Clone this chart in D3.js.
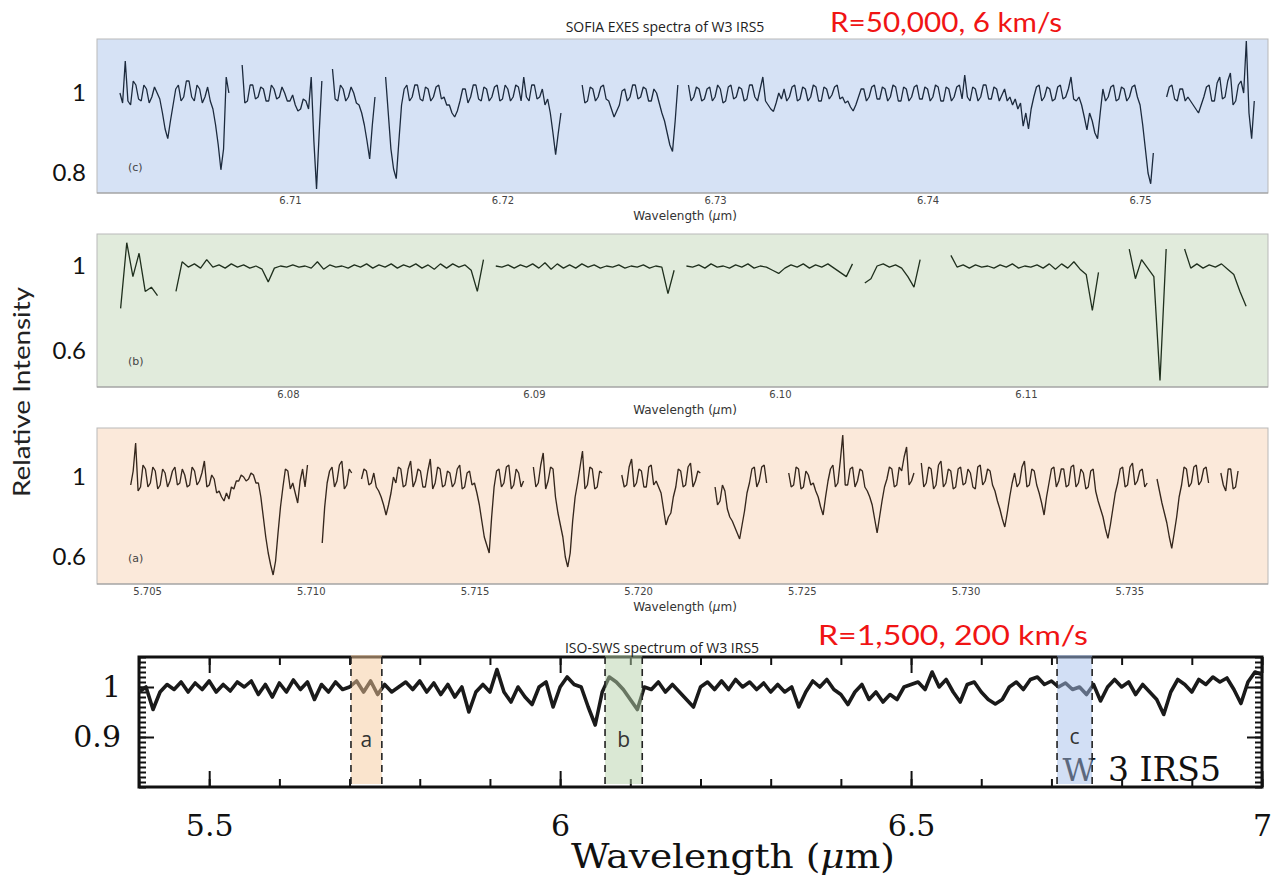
<!DOCTYPE html>
<html>
<head>
<meta charset="utf-8">
<script src="https://cdn.jsdelivr.net/npm/d3@7"></script>
<style>
  body { margin: 0; background: #fff; }
  svg { display: block; }
</style>
</head>
<body>
<svg id="fig" width="1272" height="881"></svg>
<script>
// ---------- EXES high-resolution spectra (relative intensity on a uniform wavelength grid, null = no data) ----------
const cStart = 6.7020, cStep = 0.000125;
const cFlux = [
  1.00,0.975,1.08,0.98,0.97,1.03,1.02,0.985,0.98,1.02,1.01,0.975,0.99,1.015,1.00,0.985,0.95,0.91,0.886,0.93,
  0.97,1.01,1.02,0.98,0.99,1.03,1.03,0.99,0.98,1.02,1.01,0.975,0.99,1.015,0.98,0.96,0.92,0.87,0.808,0.86,
  1.04,1.00,null,null,null,null,1.07,0.975,0.98,1.02,1.02,0.985,0.99,1.015,1.01,0.98,0.98,1.02,1.01,0.985,
  0.99,1.015,1.00,0.98,0.98,0.995,0.97,0.955,0.96,0.985,0.98,0.96,1.04,0.88,0.76,0.90,1.03,null,null,null,
  1.06,0.985,0.98,1.02,1.01,0.98,0.99,1.015,1.00,0.975,0.97,0.95,0.92,0.88,0.835,0.92,0.99,null,null,null,
  1.04,0.95,0.86,0.81,0.786,0.88,0.97,1.01,1.02,0.98,0.99,1.02,1.02,0.985,0.98,1.015,1.01,0.98,0.99,1.015,
  1.02,0.985,0.99,0.97,0.97,0.95,0.94,0.955,0.98,1.01,1.01,0.975,0.99,1.02,1.02,0.985,0.98,1.015,1.01,0.98,
  0.99,1.015,1.02,0.98,0.985,1.02,1.01,0.98,0.99,1.02,1.015,0.98,1.04,0.99,0.98,1.02,1.02,0.985,0.99,1.01,
  0.97,0.985,0.95,0.90,0.846,0.90,0.95,null,null,null,null,null,null,null,1.02,0.975,0.98,1.015,1.01,0.98,
  0.99,1.015,1.02,0.985,0.98,0.96,0.94,0.955,0.97,1.005,1.01,0.98,0.99,1.02,1.02,0.985,0.99,1.015,1.01,0.98,
  0.98,1.01,1.00,0.975,0.95,0.93,0.90,0.87,0.854,0.93,1.02,null,null,null,1.02,0.98,0.99,1.015,1.01,0.98,
  0.985,1.01,1.015,0.98,0.99,1.02,1.01,0.975,0.98,1.015,1.02,0.985,0.99,1.015,1.01,0.98,0.985,1.02,1.02,0.99,
  0.98,1.01,1.04,0.98,0.97,0.96,0.954,0.975,1.00,0.985,1.01,0.98,0.99,1.015,1.02,0.98,0.985,1.015,1.01,0.98,
  0.99,1.02,1.015,0.98,0.98,1.015,1.01,0.985,0.995,1.015,1.02,0.985,0.99,0.975,0.98,0.965,0.955,0.97,0.99,1.01,
  1.01,0.98,0.99,1.015,1.02,0.985,0.985,1.015,1.01,0.98,0.99,1.02,1.015,0.98,0.98,1.015,1.01,0.98,0.99,1.015,
  1.02,0.985,0.985,1.015,1.01,0.98,0.99,1.02,1.015,0.98,0.98,1.015,1.01,0.98,0.99,1.015,1.02,0.985,1.045,0.99,
  0.98,1.015,1.01,0.98,0.99,1.02,1.02,0.985,0.985,1.015,1.01,0.98,0.995,1.01,0.98,0.99,0.97,0.985,0.96,0.975,
  0.917,0.95,0.91,0.96,0.99,1.015,1.02,0.98,0.99,1.015,1.01,0.98,0.985,1.015,1.02,0.985,0.99,1.01,1.04,0.985,
  0.98,0.99,0.97,0.94,0.908,0.95,0.93,0.90,0.886,0.95,1.01,0.98,0.99,1.015,1.02,0.98,0.985,1.015,1.01,0.98,
  0.99,1.015,1.02,0.99,0.97,0.92,0.86,0.80,0.773,0.85,null,null,null,null,0.99,1.015,1.02,0.985,0.98,1.01,
  1.01,0.98,0.99,0.98,0.97,0.96,0.95,0.97,0.99,1.015,1.02,0.98,0.98,1.025,1.04,0.985,0.99,1.03,1.05,0.97,
  0.98,1.02,1.03,1.00,1.13,0.95,0.886,0.98
];

const bStart = 6.0732, bStep = 0.00025;
const bFlux = [
  0.80,1.11,0.95,1.06,0.88,0.90,0.86,null,null,0.88,1.02,0.995,1.01,0.99,1.03,0.995,1.005,0.99,1.01,0.995,
  1.005,0.99,1.00,0.985,0.925,0.99,1.00,0.995,1.005,0.995,1.00,0.99,1.02,0.985,1.005,0.995,1.00,0.99,1.005,0.995,
  1.01,0.99,1.005,0.995,1.01,0.99,1.005,0.995,1.01,0.99,1.005,0.985,1.01,0.99,1.01,0.995,1.005,0.98,0.88,1.03,
  null,1.00,0.995,1.005,0.99,1.005,0.995,1.01,0.99,1.015,0.985,1.01,0.99,1.005,0.99,1.01,0.995,1.005,0.99,1.00,
  0.995,1.005,0.99,1.00,0.995,1.005,0.99,1.00,0.995,0.87,0.98,null,1.00,0.995,1.005,0.99,1.01,0.995,1.00,0.99,
  1.005,0.995,1.01,0.99,1.00,0.995,0.98,0.965,0.99,1.005,0.995,1.01,0.99,1.005,0.995,1.01,0.99,0.97,0.95,1.01,
  null,0.92,0.94,1.00,1.01,0.995,1.005,0.99,0.95,0.90,1.03,null,null,null,null,1.05,0.995,1.005,0.99,1.005,
  0.995,1.00,0.99,1.005,0.995,1.01,0.99,1.00,0.995,1.005,0.99,1.01,0.985,1.01,0.99,1.02,0.985,0.96,0.79,0.97,
  null,null,null,null,1.08,0.94,1.03,0.99,0.95,0.46,1.08,null,null,1.08,0.99,1.01,0.99,1.005,0.995,1.01,
  0.985,0.96,0.88,0.81
];

const aStart = 5.7045, aStep = 0.000075;
const aFlux = [
  0.96,1.03,1.17,0.93,0.95,1.06,1.04,0.95,0.97,1.05,1.03,0.94,0.96,1.04,1.02,0.95,0.98,1.03,1.05,0.96,
  0.97,1.04,1.01,0.95,0.96,1.05,1.03,0.96,0.98,1.02,1.08,0.95,0.96,1.01,0.99,0.92,0.93,0.90,0.88,0.92,
  0.89,0.95,0.94,0.98,0.98,1.01,1.00,0.98,0.99,1.02,1.01,0.97,0.97,0.90,0.80,0.70,0.62,0.56,0.51,0.58,
  0.72,0.85,0.95,1.04,1.03,0.94,0.97,0.92,0.87,0.98,1.04,0.95,1.06,null,null,null,null,null,0.67,0.85,
  0.97,1.03,1.05,0.95,0.98,1.06,1.08,0.94,0.96,1.04,1.02,null,null,null,0.99,1.04,1.03,0.96,0.97,1.02,
  0.95,0.93,0.90,0.86,0.81,0.86,0.92,1.00,0.97,1.05,1.04,0.95,0.96,1.04,1.08,0.95,0.98,1.04,1.03,0.95,
  0.95,1.03,1.09,0.94,0.97,1.05,1.04,0.95,0.96,1.03,1.02,0.95,0.97,1.04,1.06,0.94,0.95,1.02,1.03,0.96,
  0.97,0.92,0.86,0.78,0.70,0.66,0.62,0.80,0.95,1.03,1.04,0.95,0.97,1.05,1.06,0.94,0.96,1.04,1.02,0.95,
  0.98,null,null,null,1.05,0.95,0.97,1.06,1.12,0.94,0.98,1.05,1.04,0.90,0.82,0.76,0.70,0.60,0.55,0.62,
  0.78,0.90,0.97,1.05,1.13,0.94,0.96,1.05,1.04,0.94,0.95,1.03,1.02,null,null,null,null,null,null,null,
  1.01,0.95,0.96,1.05,1.09,0.95,0.97,1.04,1.03,0.95,0.95,1.05,1.06,0.96,0.98,0.95,0.92,0.84,0.76,0.80,
  0.82,0.90,0.95,1.04,1.03,0.95,0.96,1.05,1.07,0.95,0.98,1.03,1.02,null,null,null,null,null,0.95,0.86,
  0.88,0.96,0.93,0.84,0.80,0.78,0.75,0.72,0.69,0.76,0.83,0.92,0.97,1.04,1.05,0.95,0.98,1.05,1.06,0.97,
  null,null,null,null,null,null,null,null,1.02,0.95,0.96,1.05,1.04,0.94,0.95,1.03,1.01,0.96,0.97,0.93,
  0.90,0.85,0.81,0.90,0.98,1.04,1.06,0.95,0.97,1.08,1.21,0.96,0.96,1.04,1.05,0.95,0.98,1.04,1.03,0.95,
  0.93,0.90,0.86,0.79,0.72,0.80,0.88,0.95,0.99,1.05,1.04,0.95,0.96,1.05,1.03,1.10,1.15,0.96,0.98,1.02,
  null,null,1.07,0.95,0.97,1.05,1.04,0.94,0.96,1.06,1.08,0.95,0.97,1.04,1.03,0.94,0.95,1.04,1.05,0.96,
  0.97,1.04,1.02,0.95,0.94,1.05,1.06,0.96,0.98,1.04,1.03,0.96,0.93,0.88,0.84,0.79,0.75,0.82,0.90,0.97,
  1.02,0.95,0.97,1.05,1.08,0.95,0.96,1.04,1.03,0.96,0.92,0.87,0.81,0.90,0.97,1.04,1.05,0.95,0.98,1.04,
  1.04,0.95,0.96,1.05,1.06,0.95,0.97,1.04,1.02,0.94,0.95,1.03,1.04,0.93,0.88,0.84,0.80,0.74,0.693,0.76,
  0.84,0.92,0.97,1.04,1.05,0.95,0.96,1.05,1.07,0.96,0.98,1.03,1.04,0.95,0.97,null,null,null,0.99,0.93,
  0.87,0.82,0.77,0.70,0.643,0.72,0.80,0.90,0.96,1.05,1.04,0.95,0.97,1.05,1.06,0.96,0.98,1.04,1.05,0.97,
  null,null,null,null,1.02,0.96,0.93,1.04,1.04,0.94,0.95,1.03
];

const cTicks = [6.71, 6.72, 6.73, 6.74, 6.75];
const bTicks = [6.08, 6.09, 6.10, 6.11];
const aTicks = [5.705, 5.710, 5.715, 5.720, 5.725, 5.730, 5.735];
const cLevels = [0.8, 1];
const bLevels = [0.6, 1];
const aLevels = [0.6, 1];

// ---------- ISO-SWS low-resolution spectrum ----------
const isoStart = 5.40, isoStep = 0.01;
const isoFlux = [
  0.99,1.00,0.955,0.99,1.005,0.995,1.01,0.99,1.008,0.995,1.012,0.99,1.005,0.992,1.01,1.00,1.012,0.985,1.005,0.98,
  1.008,0.99,1.014,0.995,1.01,0.975,1.005,0.99,1.01,0.995,1.00,1.012,0.99,1.012,0.985,1.005,0.99,1.00,1.01,0.995,
  1.012,0.99,1.008,0.985,1.005,0.98,1.00,0.95,0.99,1.005,0.99,1.035,0.99,0.97,1.00,0.98,0.965,1.00,1.01,0.96,
  1.00,1.02,1.005,1.00,0.96,0.924,0.99,1.02,1.01,0.995,0.975,0.955,1.00,0.995,1.01,0.99,1.005,0.99,0.975,0.96,
  1.00,1.01,0.995,1.012,0.995,1.015,1.00,1.01,0.995,1.008,0.99,1.005,0.99,1.00,0.96,0.99,1.012,1.00,1.015,0.995,
  0.985,0.965,0.99,1.005,0.975,0.99,0.97,0.985,0.975,1.00,1.005,1.01,0.995,1.03,1.00,1.015,0.99,0.97,1.005,1.01,
  0.99,0.975,0.966,0.975,1.00,1.01,0.995,1.015,1.02,1.005,1.012,1.00,1.008,0.995,1.00,0.985,1.005,0.972,1.00,1.015,
  1.00,1.01,0.985,1.005,0.99,0.975,0.945,0.99,1.015,1.005,0.99,1.015,1.005,1.02,1.01,1.018,0.995,0.967,1.01,1.03,
  1.025
];
const isoTicks = [5.5, 6, 6.5, 7];
const isoLevels = [0.9, 1];
const windowNames = ['a', 'b', 'c'];
const windowLo = [5.702, 6.064, 6.708];
const windowHi = [5.746, 6.117, 6.758];

// ---------- drawing ----------
const svg = d3.select('#fig');
svg.append('rect').attr('width', 1272).attr('height', 881).attr('fill', '#fff');

const SANS_TICK = 'DejaVu Sans, sans-serif';
const GEO = 'Lato, "Noto Sans", sans-serif';
const SERIF = '"DejaVu Serif", serif';

const panels = [
  { flux: cFlux, start: cStart, step: cStep, xTicks: cTicks, yTicks: cLevels, fmt: '.2f',
    xDom: [6.70092, 6.75602], yDom: [0.75, 1.135], box: [97, 39, 1268, 193],
    bg: '#d6e2f5', ink: '#1c2a3d', tag: '(c)', width: 1.3 },
  { flux: bFlux, start: bStart, step: bStep, xTicks: bTicks, yTicks: bLevels, fmt: '.2f',
    xDom: [6.07224, 6.11984], yDom: [0.429, 1.151], box: [97, 234, 1268, 387],
    bg: '#e1ebdc', ink: '#1f2f1d', tag: '(b)', width: 1.3 },
  { flux: aFlux, start: aStart, step: aStep, xTicks: aTicks, yTicks: aLevels, fmt: '.3f',
    xDom: [5.70347, 5.73924], yDom: [0.465, 1.245], box: [97, 428, 1268, 584],
    bg: '#fbe9da', ink: '#35271d', tag: '(a)', width: 1.35 }
];

function drawPanel(p) {
  const [x0, y0, x1, y1] = p.box;
  const x = d3.scaleLinear().domain(p.xDom).range([x0, x1]);
  const y = d3.scaleLinear().domain(p.yDom).range([y1, y0]);
  const g = svg.append('g');

  g.append('rect')
    .attr('x', x0).attr('y', y0).attr('width', x1 - x0).attr('height', y1 - y0)
    .attr('fill', p.bg).attr('stroke', '#b9b9b9').attr('stroke-width', 1);
  g.append('line').attr('x1', x0).attr('x2', x1).attr('y1', y1).attr('y2', y1)
    .attr('stroke', '#9a9a9a').attr('stroke-width', 1.2);

  const pts = p.flux.map((f, i) => ({ w: p.start + i * p.step, f: f }));
  const line = d3.line().defined(d => d.f !== null).x(d => x(d.w)).y(d => y(d.f));
  g.append('path').datum(pts).attr('d', line)
    .attr('fill', 'none').attr('stroke', p.ink).attr('stroke-width', p.width)
    .attr('stroke-linejoin', 'bevel');

  // wavelength axis
  const xa = g.append('g').attr('transform', `translate(0,${y1})`)
    .call(d3.axisBottom(x).tickValues(p.xTicks).tickFormat(d3.format(p.fmt)).tickSize(0).tickPadding(4));
  xa.select('.domain').remove();
  xa.selectAll('text').attr('font-family', SANS_TICK).attr('font-size', 10).attr('fill', '#444');

  g.append('text').attr('x', 685).attr('y', y1 + 27).attr('text-anchor', 'middle')
    .attr('font-family', SANS_TICK).attr('font-size', 12).attr('fill', '#333')
    .html('Wavelength (<tspan font-style="italic">μ</tspan>m)');

  // intensity levels
  const ya = g.append('g').attr('transform', `translate(86,0)`)
    .call(d3.axisLeft(y).tickValues(p.yTicks).tickFormat(v => v === 1 ? '1' : d3.format('.1f')(v)).tickSize(0).tickPadding(0));
  ya.select('.domain').remove();
  ya.selectAll('text').attr('font-family', GEO).attr('font-size', 24).attr('fill', '#111');

  g.append('text').attr('x', x0 + 31).attr('y', y1 - 22)
    .attr('font-family', SANS_TICK).attr('font-size', 11).attr('fill', '#444').text(p.tag);
}
panels.forEach(drawPanel);

// titles
svg.append('text').attr('x', 665).attr('y', 32).attr('text-anchor', 'middle')
  .attr('font-family', '"Open Sans", sans-serif').attr('font-size', 14).attr('fill', '#222')
  .text('SOFIA EXES spectra of W3 IRS5');
svg.append('text').attr('x', 830).attr('y', 32)
  .attr('font-family', GEO).attr('font-size', 27).attr('fill', '#f01414')
  .attr('textLength', 232).attr('lengthAdjust', 'spacingAndGlyphs')
  .text('R=50,000, 6 km/s');

svg.append('text').attr('transform', 'translate(30,392) rotate(-90)').attr('text-anchor', 'middle')
  .attr('font-family', GEO).attr('font-size', 24).attr('fill', '#222')
  .attr('textLength', 210).attr('lengthAdjust', 'spacingAndGlyphs')
  .text('Relative Intensity');

// ---------- ISO panel ----------
const ix = d3.scaleLinear().domain([5.4, 7.0]).range([139, 1262]);
const iy = d3.scaleLinear().domain([0.8, 1.06]).range([787, 657]);
const iso = svg.append('g');

svg.append('text').attr('x', 662).attr('y', 653).attr('text-anchor', 'middle')
  .attr('font-family', '"Open Sans", sans-serif').attr('font-size', 14).attr('fill', '#222')
  .text('ISO-SWS spectrum of W3 IRS5');
svg.append('text').attr('x', 818).attr('y', 645)
  .attr('font-family', GEO).attr('font-size', 27).attr('fill', '#f01414')
  .attr('textLength', 270).attr('lengthAdjust', 'spacingAndGlyphs')
  .text('R=1,500, 200 km/s');

const minorX = ix.ticks(16);
const minorY = iy.ticks(26);

function styleAxis(sel) {
  sel.select('.domain').remove();
  sel.selectAll('line').attr('stroke', '#111').attr('stroke-width', 2);
}
iso.append('g').attr('transform', 'translate(0,787)').call(d3.axisBottom(ix).tickValues(minorX).tickSize(-8).tickFormat('')).call(styleAxis);
iso.append('g').attr('transform', 'translate(0,657)').call(d3.axisTop(ix).tickValues(minorX).tickSize(-8).tickFormat('')).call(styleAxis);
iso.append('g').attr('transform', 'translate(0,657)').call(d3.axisTop(ix).tickValues(isoTicks).tickSize(-16).tickFormat('')).call(styleAxis);
const xb = iso.append('g').attr('transform', 'translate(0,787)')
  .call(d3.axisBottom(ix).tickValues(isoTicks).tickSize(-16).tickPadding(28).tickFormat(d3.format('')))
  .call(styleAxis);
xb.selectAll('text').attr('font-family', SERIF).attr('font-size', 30).attr('fill', '#111');

iso.append('g').attr('transform', 'translate(139,0)').call(d3.axisLeft(iy).tickValues(minorY).tickSize(-7).tickFormat('')).call(styleAxis);
iso.append('g').attr('transform', 'translate(1262,0)').call(d3.axisRight(iy).tickValues(minorY).tickSize(-7).tickFormat('')).call(styleAxis);
iso.append('g').attr('transform', 'translate(1262,0)').call(d3.axisRight(iy).tickValues(isoLevels).tickSize(-15).tickFormat('')).call(styleAxis);
const yb = iso.append('g').attr('transform', 'translate(139,0)')
  .call(d3.axisLeft(iy).tickValues(isoLevels).tickSize(-15).tickPadding(18).tickFormat(d3.format('')))
  .call(styleAxis);
yb.selectAll('text').attr('font-family', SERIF).attr('font-size', 30).attr('fill', '#111');

iso.append('rect').attr('x', 139).attr('y', 657).attr('width', 1262 - 139).attr('height', 787 - 657)
  .attr('fill', 'none').attr('stroke', '#111').attr('stroke-width', 3);

const isoPts = isoFlux.map((f, i) => ({ w: isoStart + i * isoStep, f: f }));
iso.append('path').datum(isoPts)
  .attr('d', d3.line().x(d => ix(d.w)).y(d => iy(d.f)))
  .attr('fill', 'none').attr('stroke', '#1a1a1a').attr('stroke-width', 3.6)
  .attr('stroke-linejoin', 'round');

// "W" sits beneath the c window tint
iso.append('text').attr('x', 1079).attr('y', 781).attr('text-anchor', 'middle')
  .attr('font-family', SERIF).attr('font-size', 32).attr('fill', '#111').text('W');
iso.append('text').attr('x', 1108).attr('y', 781)
  .attr('font-family', SERIF).attr('font-size', 33).attr('fill', '#111').text('3 IRS5');

// windows covered by the EXES spectra
const winFill = ['#f5c99b', '#b5d1a9', '#a5bfeb'];
windowNames.forEach((name, k) => {
  const xl = ix(windowLo[k]), xr = ix(windowHi[k]);
  iso.append('rect').attr('x', xl).attr('y', 655).attr('width', xr - xl).attr('height', 784 - 655)
    .attr('fill', winFill[k]).attr('fill-opacity', 0.5);
  [xl, xr].forEach(xv => {
    iso.append('line').attr('x1', xv).attr('x2', xv).attr('y1', 657).attr('y2', 787)
      .attr('stroke', '#222').attr('stroke-width', 1.6).attr('stroke-dasharray', '7,5');
  });
  iso.append('text').attr('x', (xl + xr) / 2).attr('y', k === 2 ? 744 : 747).attr('text-anchor', 'middle')
    .attr('font-family', '"Open Sans", sans-serif').attr('font-size', 21).attr('fill', '#333').text(name);
});

svg.append('text').attr('x', 733).attr('y', 868).attr('text-anchor', 'middle')
  .attr('font-family', SERIF).attr('font-size', 34).attr('fill', '#111')
  .attr('textLength', 324).attr('lengthAdjust', 'spacingAndGlyphs')
  .html('Wavelength (<tspan font-style="italic">μ</tspan>m)');
</script>
</body>
</html>
